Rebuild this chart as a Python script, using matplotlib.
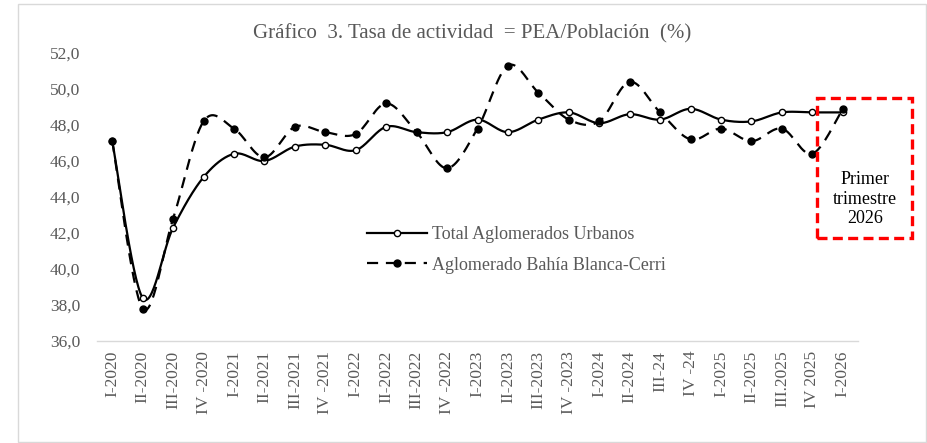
import numpy as np
import matplotlib
matplotlib.use("Agg")
import matplotlib.pyplot as plt
from matplotlib.patches import Rectangle
from matplotlib.lines import Line2D

plt.rcParams['font.family'] = ['Liberation Serif', 'DejaVu Serif']

categories = ["I-2020", "II-2020", "III-2020", "IV -2020",
              "I-2021", "II-2021", "III-2021", "IV -2021",
              "I-2022", "II-2022", "III-2022", "IV -2022",
              "I-2023", "II-2023", "III-2023", "IV -2023",
              "I-2024", "II-2024", "III-24", "IV -24",
              "I-2025", "II-2025", "III.2025", "IV 2025", "I-2026"]

total_urbanos = [47.1, 38.4, 42.3, 45.1, 46.4, 46.0, 46.8, 46.9, 46.6,
                 47.9, 47.6, 47.6, 48.3, 47.6, 48.3, 48.7, 48.1, 48.6,
                 48.3, 48.9, 48.3, 48.2, 48.7, 48.7, 48.7]

bahia_blanca = [47.1, 37.8, 42.8, 48.2, 47.8, 46.2, 47.9, 47.6, 47.5,
                49.2, 47.6, 45.6, 47.8, 51.3, 49.8, 48.3, 48.2, 50.4,
                48.7, 47.2, 47.8, 47.1, 47.8, 46.4, 48.9]

title = "Gráfico  3. Tasa de actividad  = PEA/Población  (%)"
label_total = "Total Aglomerados Urbanos"
label_bahia = "Aglomerado Bahía Blanca-Cerri"
note_text = "Primer\ntrimestre\n2026"
y_ticks = [36, 38, 40, 42, 44, 46, 48, 50, 52]


def smooth(y, n=30):
    """Excel-style smoothed line: cubic Bezier with Catmull-Rom control points."""
    y = np.asarray(y, float)
    x = np.arange(len(y), dtype=float)
    P = np.column_stack([x, y])
    out = []
    m = len(P)
    for i in range(m - 1):
        p0 = P[i - 1] if i > 0 else P[i]
        p1 = P[i]
        p2 = P[i + 1]
        p3 = P[i + 2] if i + 2 < m else P[i + 1]
        c1 = p1 + (p2 - p0) / 6.0
        c2 = p2 - (p3 - p1) / 6.0
        t = np.linspace(0, 1, n, endpoint=(i == m - 2))[:, None]
        b = ((1 - t) ** 3) * p1 + 3 * ((1 - t) ** 2) * t * c1 + 3 * (1 - t) * t ** 2 * c2 + t ** 3 * p2
        out.append(b)
    out = np.vstack(out)
    return out[:, 0], out[:, 1]


W, H = 928, 443
fig = plt.figure(figsize=(W / 100, H / 100), dpi=100)
fig.patch.set_facecolor('white')

# outer chart border
fig.add_artist(Rectangle((18 / W, 1 - 442 / H), (926 - 18) / W, (442 - 4) / H,
                         transform=fig.transFigure, fill=False,
                         edgecolor='#D9D9D9', linewidth=1.0))

ax = fig.add_axes([97 / W, 1 - 341 / H, (858 - 97) / W, (341 - 53) / H])
ax.set_facecolor('white')

x = np.arange(len(categories))
gray = '#595959'

sx, sy = smooth(total_urbanos)
ax.plot(sx, sy, color='black', linewidth=1.6, zorder=3)
ax.plot(x, total_urbanos, linestyle='none', marker='o', markersize=4.5,
        markerfacecolor='white', markeredgecolor='black', markeredgewidth=1.0, zorder=4)

bx, by = smooth(bahia_blanca)
ax.plot(bx, by, color='black', linewidth=1.6, dashes=(5, 3.5), zorder=3)
ax.plot(x, bahia_blanca, linestyle='none', marker='o', markersize=5,
        markerfacecolor='black', markeredgecolor='black', zorder=4)

ax.set_xlim(-0.5, len(categories) - 0.5)
ax.set_ylim(36, 52)
ax.set_yticks(y_ticks)
ax.set_yticklabels([f"{v:.1f}".replace('.', ',') for v in y_ticks],
                   fontsize=12.5, color=gray)
ax.set_xticks(x)
ax.set_xticklabels(categories, rotation=90, fontsize=12.5, color=gray)
ax.tick_params(axis='both', length=0)
ax.tick_params(axis='y', pad=12)
ax.tick_params(axis='x', pad=7)
for s in ['top', 'right', 'left']:
    ax.spines[s].set_visible(False)
ax.spines['bottom'].set_color('#D9D9D9')
ax.spines['bottom'].set_linewidth(1.0)

fig.text(472 / W, 1 - 34 / H, title, ha='center', va='center',
         fontsize=15, color=gray)

handles = [
    Line2D([], [], color='black', linewidth=1.6, marker='o', markersize=4.5,
           markerfacecolor='white', markeredgecolor='black'),
    Line2D([], [], color='black', linewidth=1.6, dashes=(5, 3.5), marker='o',
           markersize=5, markerfacecolor='black', markeredgecolor='black'),
]
fig.legend(handles, [label_total, label_bahia], loc='upper left',
           bbox_to_anchor=(367 / W, 1 - 226 / H), frameon=False,
           fontsize=13, labelcolor=gray, handlelength=3.3, handletextpad=0.3,
           labelspacing=0.75, borderaxespad=0, borderpad=0)

# red dashed annotation box
fig.add_artist(Rectangle((817 / W, 1 - 238 / H), (912 - 817) / W, (238 - 98) / H,
                         transform=fig.transFigure, fill=False,
                         edgecolor='#FF0000', linewidth=2.4,
                         linestyle=(0, (3, 1.6)), zorder=5))
fig.text(865 / W, 1 - 199 / H, note_text, ha='center', va='center',
         fontsize=13, color='black', linespacing=1.22)

fig.savefig('out.png', dpi=100, facecolor='white')
